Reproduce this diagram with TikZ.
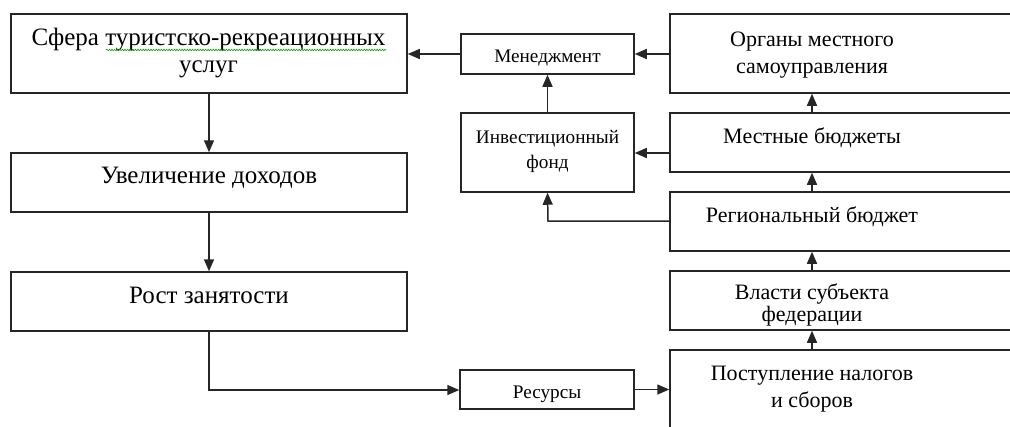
\documentclass[tikz,border=0pt]{standalone}
\usepackage{fontspec}
\setmainfont{Liberation Serif}
\usetikzlibrary{arrows.meta,decorations.pathmorphing}
\begin{document}
\begin{tikzpicture}[x=1pt,y=1pt,
  box/.style={draw=black!85,line width=1.5pt,inner sep=0pt},
  big/.style={font=\fontsize{22}{27}\selectfont,anchor=base,inner sep=0pt},
  bigger/.style={font=\fontsize{25}{27}\selectfont,anchor=base,inner sep=0pt},
  small/.style={font=\fontsize{19.2}{24}\selectfont,anchor=base,inner sep=0pt},
  arr/.style={draw=black!85,line width=1.5pt,-{Triangle[length=12pt,width=10pt]}}]
\useasboundingbox (0,0) rectangle (1010,-426);
\clip (0,0) rectangle (1010,-426);
\fill[white] (0,0) rectangle (1010,-426);
% left column
\node[box,minimum width=396pt,minimum height=79pt] (sfera) at (209,-53.5) {};
\node[box,minimum width=396pt,minimum height=59pt] (uvel) at (209,-182.5) {};
\node[box,minimum width=396pt,minimum height=59pt] (rost) at (209,-301.5) {};
% middle column
\node[box,minimum width=173pt,minimum height=40pt] (men) at (547.5,-54) {};
\node[box,minimum width=173pt,minimum height=79pt] (inv) at (547.5,-152.5) {};
\node[box,minimum width=174pt,minimum height=39pt] (res) at (547,-389.5) {};
% right column (extends past the right edge)
\node[box,minimum width=350pt,minimum height=79pt] (org) at (845,-53.5) {};
\node[box,minimum width=350pt,minimum height=59pt] (mest) at (845,-142.5) {};
\node[box,minimum width=350pt,minimum height=59pt] (reg) at (845,-221.5) {};
\node[box,minimum width=350pt,minimum height=59pt] (vlast) at (845,-300.5) {};
\node[box,minimum width=350pt,minimum height=90pt] (post) at (845,-395) {};
% texts
\node[bigger] (t1a) at (208.5,-45) {Сфера туристско-рекреационных};
\node[bigger] (t1b) at (208.5,-72) {услуг};
\draw[green!60!black,line width=0.6pt,decorate,decoration={snake,amplitude=0.7pt,segment length=2.6pt}] (106,-50) -- (386,-50);
\node[bigger] (t2) at (209,-183) {Увеличение доходов};
\node[bigger] (t3) at (209,-303) {Рост занятости};
\node[small] (t4) at (547.5,-62.5) {Менеджмент};
\node[small] (t5a) at (547.5,-143) {Инвестиционный};
\node[small] (t5b) at (547.5,-168) {фонд};
\node[small] (t6) at (547,-398) {Ресурсы};
\node[big] (t7a) at (812,-46) {Органы местного};
\node[big] (t7b) at (812,-73) {самоуправления};
\node[big] (t8) at (812,-143) {Местные бюджеты};
\node[big] (t9) at (812,-222) {Региональный бюджет};
\node[big] (t10a) at (812,-299) {Власти субъекта};
\node[big] (t10b) at (812,-321) {федерации};
\node[big] (t11a) at (812,-380) {Поступление налогов};
\node[big] (t11b) at (812,-407) {и сборов};
% connectors
\coordinate (c1) at (209,-390);
\coordinate (c2) at (548,-221);
\draw[arr] (sfera.south) -- (uvel.north);
\draw[arr] (uvel.south) -- (rost.north);
\draw[arr] (rost.south) -- (c1) -- (res.west |- c1);
\draw[arr] (res.east) -- (post.west |- res.east);
\draw[arr] (post.north -| t11a) -- (vlast.south -| t11a);
\draw[arr] (vlast.north -| t11a) -- (reg.south -| t11a);
\draw[arr] (reg.north -| t11a) -- (mest.south -| t11a);
\draw[arr] (mest.north -| t11a) -- (org.south -| t11a);
\draw[arr] (org.west |- men.east) -- (men.east);
\draw[arr] (men.west) -- (sfera.east |- men.west);
\draw[arr] (inv.north) -- (men.south);
\draw[arr] (mest.west |- 0,-153) -- (inv.east |- 0,-153);
\draw[arr] (reg.west |- c2) -- (c2) -- (inv.south);
\end{tikzpicture}
\end{document}
